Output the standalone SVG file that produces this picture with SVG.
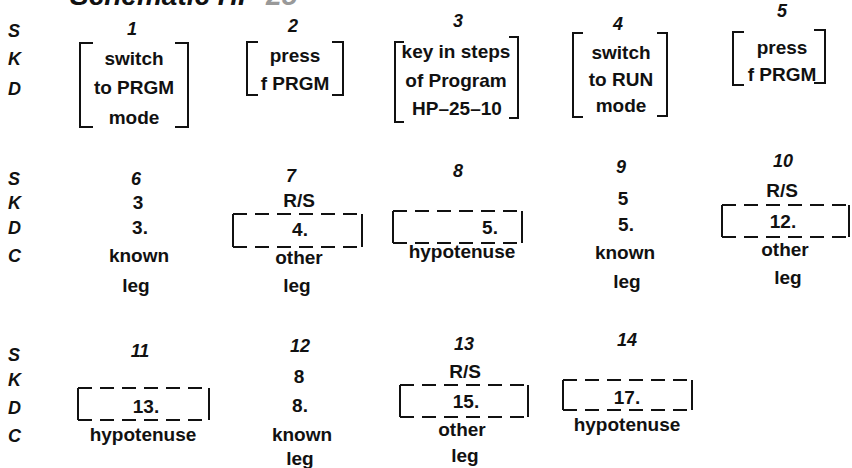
<svg xmlns="http://www.w3.org/2000/svg" width="852" height="468" viewBox="0 0 852 468">
<style>
text{fill:#111;font-family:"Liberation Sans",Arial,sans-serif}
.title{font-size:28px;font-weight:bold;font-style:italic}
.lbl{font-size:18px;font-weight:bold;font-style:italic}
.num{font-size:18px;font-weight:bold;font-style:italic;text-anchor:middle}
.t{font-size:19px;font-weight:bold;text-anchor:middle}
.br{fill:none;stroke:#111;stroke-width:2}
.dl{fill:none;stroke:#111;stroke-width:2;stroke-dasharray:14 8}
</style>
<text class="title" x="70" y="5">Schematic HP-<tspan fill="#999">25</tspan></text>
<g id="row-labels">
<text class="lbl" x="8" y="37">S</text><text class="lbl" x="8" y="65">K</text><text class="lbl" x="8" y="95">D</text>
<text class="lbl" x="8" y="185">S</text><text class="lbl" x="8" y="209">K</text><text class="lbl" x="8" y="234">D</text><text class="lbl" x="8" y="262">C</text>
<text class="lbl" x="8" y="361">S</text><text class="lbl" x="8" y="386">K</text><text class="lbl" x="8" y="414">D</text><text class="lbl" x="8" y="442">C</text>
</g>
<g id="step1">
<text class="num" x="132" y="35">1</text>
<path class="br" d="M93,43H80V127H93M175,43H188V127H175"/>
<text class="t" x="134" y="65">switch</text><text class="t" x="134" y="94">to PRGM</text><text class="t" x="134" y="124">mode</text>
</g>
<g id="step2">
<text class="num" x="293" y="32">2</text>
<path class="br" d="M258,42H247V95H258M332,42H343V95H332"/>
<text class="t" x="295" y="62">press</text><text class="t" x="295" y="90">f PRGM</text>
</g>
<g id="step3">
<text class="num" x="458" y="27">3</text>
<path class="br" d="M404,42H395V122H404M509,37H518V118H509"/>
<text class="t" x="456" y="58">key in steps</text><text class="t" x="456" y="87">of Program</text><text class="t" x="457" y="115">HP–25–10</text>
</g>
<g id="step4">
<text class="num" x="618" y="30">4</text>
<path class="br" d="M583,33H573V117H583M657,33H667V116H657"/>
<text class="t" x="621" y="59">switch</text><text class="t" x="621" y="86">to RUN</text><text class="t" x="621" y="112">mode</text>
</g>
<g id="step5">
<text class="num" x="782" y="17">5</text>
<path class="br" d="M744,32H733V85H744M814,30H825V83H814"/>
<text class="t" x="782" y="54">press</text><text class="t" x="782" y="81">f PRGM</text>
</g>
<g id="step6">
<text class="num" x="136" y="185">6</text>
<text class="t" x="138" y="209">3</text><text class="t" x="140" y="234">3.</text>
<text class="t" x="139" y="262">known</text><text class="t" x="136" y="292">leg</text>
</g>
<g id="step7">
<text class="num" x="291" y="182">7</text>
<text class="t" x="299" y="207">R/S</text>
<path class="dl" d="M233,214H362M233,247H362"/><path class="br" d="M233,214V247M362,214V247"/>
<text class="t" x="300" y="236">4.</text>
<text class="t" x="299" y="264">other</text><text class="t" x="297" y="292">leg</text>
</g>
<g id="step8">
<text class="num" x="458" y="177">8</text>
<path class="dl" d="M393,211H522M393,243H522"/><path class="br" d="M393,211V243M522,211V243"/>
<text class="t" x="490" y="234">5.</text>
<text class="t" x="462" y="258">hypotenuse</text>
</g>
<g id="step9">
<text class="num" x="621" y="173">9</text>
<text class="t" x="623" y="205">5</text><text class="t" x="626" y="231">5.</text>
<text class="t" x="625" y="259">known</text><text class="t" x="627" y="288">leg</text>
</g>
<g id="step10">
<text class="num" x="783" y="167">10</text>
<text class="t" x="782" y="197">R/S</text>
<path class="dl" d="M722,205H849M722,237H849"/><path class="br" d="M722,205V237M849,205V237"/>
<text class="t" x="783" y="228">12.</text>
<text class="t" x="785" y="256">other</text><text class="t" x="788" y="284">leg</text>
</g>
<g id="step11">
<text class="num" x="140" y="357">11</text>
<path class="dl" d="M78,388H209M78,420H209"/><path class="br" d="M78,388V420M209,388V420"/>
<text class="t" x="146" y="413">13.</text>
<text class="t" x="143" y="441">hypotenuse</text>
</g>
<g id="step12">
<text class="num" x="300" y="352">12</text>
<text class="t" x="299" y="383">8</text><text class="t" x="300" y="412">8.</text>
<text class="t" x="302" y="441">known</text><text class="t" x="300" y="465">leg</text>
</g>
<g id="step13">
<text class="num" x="464" y="350">13</text>
<text class="t" x="465" y="378">R/S</text>
<path class="dl" d="M400,385H528M400,417H528"/><path class="br" d="M400,385V417M528,385V417"/>
<text class="t" x="466" y="408">15.</text>
<text class="t" x="462" y="436">other</text><text class="t" x="465" y="462">leg</text>
</g>
<g id="step14">
<text class="num" x="627" y="346">14</text>
<path class="dl" d="M563,380H692M563,410H692"/><path class="br" d="M563,380V410M692,380V410"/>
<text class="t" x="627" y="404">17.</text>
<text class="t" x="627" y="431">hypotenuse</text>
</g>
</svg>
